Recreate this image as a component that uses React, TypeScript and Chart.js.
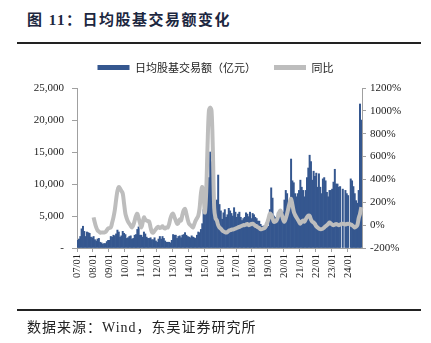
import React, { useEffect, useRef } from 'react';
import { Chart, registerables } from 'chart.js';

Chart.register(...registerables);

// Monthly categories 2007/01 – 2024/11 (yy/mm)
const categories: string[] = [];
for (let i = 0; i < 215; i++) {
  const yy = String(7 + Math.floor(i / 12)).padStart(2, '0');
  const mm = String((i % 12) + 1).padStart(2, '0');
  categories.push(`${yy}/${mm}`);
}

// 日均股基交易额（亿元）
const turnover: (number | null)[] = [
  1200, 1400, 1800, 3000, 3400, 2600, 1800, 2500, 2400, 2300, 1700, 1600, // 2007
  1800, 1300, 1100, 1400, 1500, 900, 800, 600, 700, 700, 1000, 1200, // 2008
  1200, 1800, 1700, 2000, 1900, 2200, 2800, 2500, 1700, 1900, 2600, 2300, // 2009
  2100, 1500, 1600, 1800, 1900, 1400, 1500, 2000, 2100, 2900, 3300, 2000, // 2010
  2000, 1700, 2500, 2200, 1700, 1500, 1500, 1600, 1300, 1300, 1600, 1100, // 2011
  900, 1400, 1800, 1400, 1800, 1500, 1100, 900, 900, 900, 800, 1200, // 2012
  2100, 2000, 2000, 1500, 1800, 1900, 1600, 2000, 2100, 2400, 2000, 1800, // 2013
  1700, 1600, 1900, 1700, 1600, 1500, 2000, 2500, 2400, 2900, 3800, 6000, // 2014
  6200, 8300, 9500, 11000, 15000, 13500, 9000, 7000, 5800, 7500, 11400, 6800, // 2015
  5800, 4500, 5500, 6000, 4800, 5200, 6200, 5800, 5400, 5000, 6300, 5600, // 2016
  4800, 5300, 5600, 4800, 4300, 4600, 4800, 5500, 5300, 4900, 5600, 4600, // 2017
  5400, 5200, 4800, 4600, 4200, 4200, 3700, 3400, 3400, 3500, 3900, 3300, // 2018
  3400, 6000, 9400, 7800, 5000, 4800, 4600, 5500, 5700, 5000, 4900, 5600, // 2019
  7500, 9000, 8500, 6500, 6000, 13900, 10500, 10200, 8500, 8000, 8500, 9000, // 2020
  10600, 9500, 9000, 8000, 9000, 11000, 12500, 14500, 13500, 10600, 12000, 11200, // 2021
  11700, 9500, 11600, 9500, 8500, 10800, 11000, 10500, 8700, 8000, 9000, 9000, // 2022
  9200, 10300, 12300, 10000, 10000, 9500, 9600, null, 9200, null, 9000, 8500, // 2023
  8200, null, 10800, 10500, 9600, 8500, 7400, 7000, 9000, 22500, 20000, // 2024
];

// 同比（%）
const yoy: (number | null)[] = [
  null, null, null, null, null, null, null, null, null, null, null, null, // 2007
  68, 20, -20, -45, -55, -65, -65, -65, -65, -60, -45, -30, // 2008
  -25, -20, 20, 68, 130, 220, 300, 334, 320, 300, 277, 190, // 2009
  100, 60, 30, 12, -5, -20, 0, 40, 80, 100, 60, 20, // 2010
  -20, 20, 68, 50, 40, 35, 30, -20, -60, -65, -50, -35, // 2011
  -20, -15, -25, -20, -10, -25, -30, -20, -20, 10, 60, 90, // 2012
  100, 70, 40, 12, 20, 50, 40, 90, 130, 142, 100, 50, // 2013
  12, 0, -10, -20, 10, 40, 60, 83, 150, 280, 334, 250, // 2014
  110, 300, 700, 1000, 1030, 1000, 650, 150, 60, 40, 0, -20, // 2015
  -30, -45, -55, -60, -65, -60, -50, -45, -40, -38, -35, -30, // 2016
  -25, -20, -15, -10, -5, 0, 0, 5, 10, 0, 5, 10, // 2017
  12, 5, -5, -10, -20, -25, -35, -35, -30, -25, -10, 20, // 2018
  60, 100, 90, 60, 30, 30, 40, 70, 110, 127, 90, 50, // 2019
  30, 60, 100, 150, 200, 230, 180, 120, 90, 68, 50, 30, // 2020
  12, 30, 40, 30, 50, 70, 83, 80, 50, 30, 24, 10, // 2021
  -10, -20, -30, -35, -35, -30, -20, -10, 0, 10, 24, 15, // 2022
  5, 0, 5, 10, 5, 0, 5, 10, 12, 10, 5, 10, // 2023
  12, 10, 5, 0, -10, -20, -15, 0, 60, 100, 157, // 2024
];

const leftTicks = [0, 5000, 10000, 15000, 20000, 25000];
const rightTicks = [-200, 0, 200, 400, 600, 800, 1000, 1200];

const seriesNames = ['日均股基交易额（亿元）', '同比'];
const barColor = '#35578F';
const lineColor = '#BDBDBD';
const axisColor = '#A0A0A0';
const serif = "'Liberation Serif', 'Times New Roman', serif";
const cjk = "'Liberation Serif', 'Noto Sans CJK SC', serif";

export default function App() {
  const ref = useRef<HTMLCanvasElement>(null);

  useEffect(() => {
    if (!ref.current) return;
    const chart = new Chart(ref.current, {
      type: 'bar',
      data: {
        labels: categories,
        datasets: [
          {
            type: 'bar',
            label: seriesNames[0],
            data: turnover,
            backgroundColor: barColor,
            borderWidth: 0,
            barPercentage: 1,
            categoryPercentage: 1,
            yAxisID: 'y',
            order: 2,
          },
          {
            type: 'line',
            label: seriesNames[1],
            data: yoy,
            borderColor: lineColor,
            backgroundColor: lineColor,
            borderWidth: 4,
            pointRadius: 0,
            tension: 0.35,
            yAxisID: 'y1',
            order: 1,
          },
        ] as any,
      },
      options: {
        responsive: false,
        animation: false,
        layout: { padding: { top: 44, bottom: 55, left: 0, right: 0 } },
        plugins: {
          tooltip: { enabled: false },
          title: {
            display: true,
            text: '',
            padding: 0,
            font: { size: 5, lineHeight: 1 },
          },
          legend: {
            display: true,
            position: 'top',
            weight: 3000,
            labels: {
              boxWidth: 32,
              boxHeight: 5,
              padding: 18,
              color: '#222',
              font: { family: "'Noto Sans CJK SC'", size: 11 },
              sort: (a: any, b: any) => a.datasetIndex - b.datasetIndex,
              generateLabels: (c: any) =>
                c.data.datasets.map((ds: any, i: number) => ({
                  text: ds.label,
                  fillStyle: i === 0 ? barColor : lineColor,
                  strokeStyle: i === 0 ? barColor : lineColor,
                  lineWidth: 0,
                  hidden: false,
                  datasetIndex: i,
                  fontColor: '#222',
                })),
            },
          } as any,
        },
        scales: {
          x: {
            type: 'category',
            offset: true,
            grid: {
              display: true,
              drawOnChartArea: false,
              drawTicks: true,
              tickLength: 4,
              offset: true,
              color: (ctx: any) => (ctx.index % 12 === 0 ? axisColor : 'rgba(0,0,0,0)'),
            },
            border: { display: true, color: axisColor },
            ticks: {
              autoSkip: false,
              minRotation: 90,
              maxRotation: 90,
              padding: 2,
              color: '#222',
              font: { family: serif, size: 10.5 },
              callback: (_v: any, i: number) => (i % 12 === 0 ? categories[i] : ''),
            },
            afterFit: (s: any) => {
              s.height = 40;
            },
          },
          y: {
            type: 'linear',
            position: 'left',
            min: leftTicks[0],
            max: leftTicks[leftTicks.length - 1],
            afterBuildTicks: (s: any) => {
              s.ticks = leftTicks.map((v) => ({ value: v }));
            },
            grid: { drawOnChartArea: false, tickLength: 5, color: axisColor },
            border: { display: true, color: axisColor },
            ticks: {
              padding: 8,
              color: '#222',
              font: { family: serif, size: 11 },
              callback: (v: any) => (Number(v) === 0 ? '-' : Number(v).toLocaleString('en-US')),
            },
            afterFit: (s: any) => {
              s.width = 77;
            },
          },
          y1: {
            type: 'linear',
            position: 'right',
            min: rightTicks[0],
            max: rightTicks[rightTicks.length - 1],
            afterBuildTicks: (s: any) => {
              s.ticks = rightTicks.map((v) => ({ value: v }));
            },
            grid: { drawOnChartArea: false, tickLength: 4, color: axisColor },
            border: { display: true, color: axisColor },
            ticks: {
              padding: 4,
              color: '#222',
              font: { family: serif, size: 11 },
              callback: (v: any) => `${v}%`,
            },
            afterFit: (s: any) => {
              s.width = 69;
            },
          },
        },
      } as any,
    });
    return () => chart.destroy();
  }, []);

  return (
    <div
      style={{
        position: 'absolute',
        left: 0,
        top: 0,
        width: 431,
        height: 343,
        background: '#fff',
        overflow: 'hidden',
      }}
    >
      <div
        style={{
          position: 'absolute',
          left: 27,
          top: 8,
          fontFamily: cjk,
          fontWeight: 700,
          fontSize: 15,
          letterSpacing: 1.5,
          color: '#1c2740',
          whiteSpace: 'nowrap',
        }}
      >
        图 11：日均股基交易额变化
      </div>
      <div
        style={{
          position: 'absolute',
          left: 17,
          top: 42,
          width: 404,
          height: 2,
          background: '#222',
        }}
      />
      <canvas
        ref={ref}
        width={431}
        height={343}
        style={{ position: 'absolute', left: 0, top: 0, width: 431, height: 343 }}
      />
      <div
        style={{
          position: 'absolute',
          left: 17,
          top: 309,
          width: 404,
          height: 2,
          background: '#222',
        }}
      />
      <div
        style={{
          position: 'absolute',
          left: 27,
          top: 316,
          fontFamily: cjk,
          fontSize: 14,
          letterSpacing: 1,
          color: '#222',
          whiteSpace: 'nowrap',
        }}
      >
        数据来源：Wind，东吴证券研究所
      </div>
    </div>
  );
}
